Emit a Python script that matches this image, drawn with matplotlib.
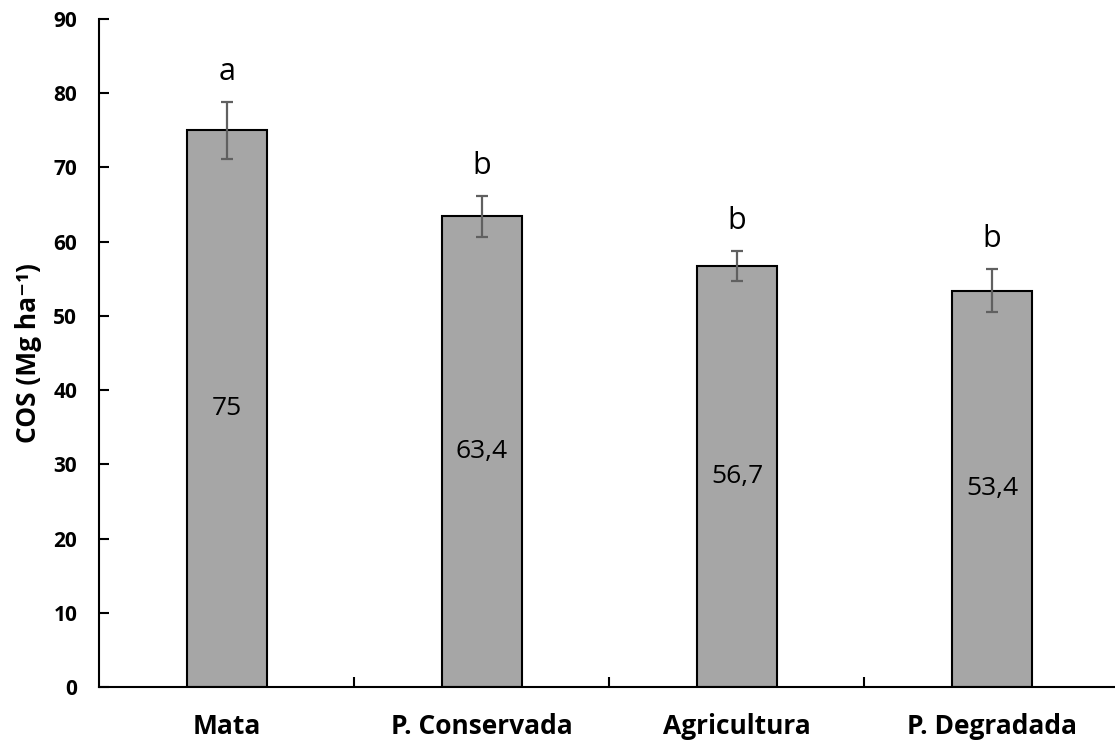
import matplotlib.pyplot as plt
import numpy as np

plt.rcParams['font.family'] = ['Open Sans', 'DejaVu Sans']

# Carbono orgânico do solo por uso da terra
usos = ['Mata', 'P. Conservada', 'Agricultura', 'P. Degradada']
cos_media = [75, 63.4, 56.7, 53.4]
cos_erro = [3.8, 2.7, 2.0, 2.9]
letras = ['a', 'b', 'b', 'b']

fig = plt.figure(figsize=(11.15, 7.44), dpi=100)
ax = fig.add_axes([0.0892, 0.0766, 0.9148, 0.8978])

x = np.arange(len(usos))
ax.bar(x, cos_media, width=0.316, color='#a6a6a6', edgecolor='black',
       linewidth=1.5, zorder=2)
ax.errorbar(x, cos_media, yerr=cos_erro, fmt='none', ecolor='#606060',
            elinewidth=1.6, capsize=4.5, capthick=1.6, zorder=3)

# valores dentro das barras (vírgula decimal)
for xi, m in zip(x, cos_media):
    txt = f'{m:g}'.replace('.', ',')
    ax.text(xi, m / 2, txt, ha='center', va='center', fontsize=19)

# letras de significância acima das barras de erro
for xi, m, e, l in zip(x, cos_media, cos_erro, letras):
    ax.annotate(l, (xi, m + e), xytext=(0, 16), textcoords='offset points',
                ha='center', va='baseline', fontsize=22)

ax.set_xlim(-0.5, len(usos) - 0.5)
ax.set_ylim(0, 90)
ax.set_yticks(np.arange(0, 91, 10))
ax.set_xticks(x)
ax.set_xticklabels(usos, fontsize=19, fontweight='bold')
ax.set_xticks(x[:-1] + 0.5, minor=True)
ax.tick_params(axis='x', which='major', length=0, pad=19)
ax.tick_params(axis='x', which='minor', direction='in', length=7, width=1.5)
ax.tick_params(axis='y', direction='in', length=7, width=1.5, pad=16,
               labelsize=15)
for lab in ax.get_yticklabels():
    lab.set_fontweight('bold')
ax.set_ylabel('COS (Mg ha⁻¹)', fontsize=19, fontweight='bold', labelpad=8)

for s in ['top', 'right']:
    ax.spines[s].set_visible(False)
for s in ['left', 'bottom']:
    ax.spines[s].set_linewidth(1.5)

fig.savefig('out.png', dpi=100)
